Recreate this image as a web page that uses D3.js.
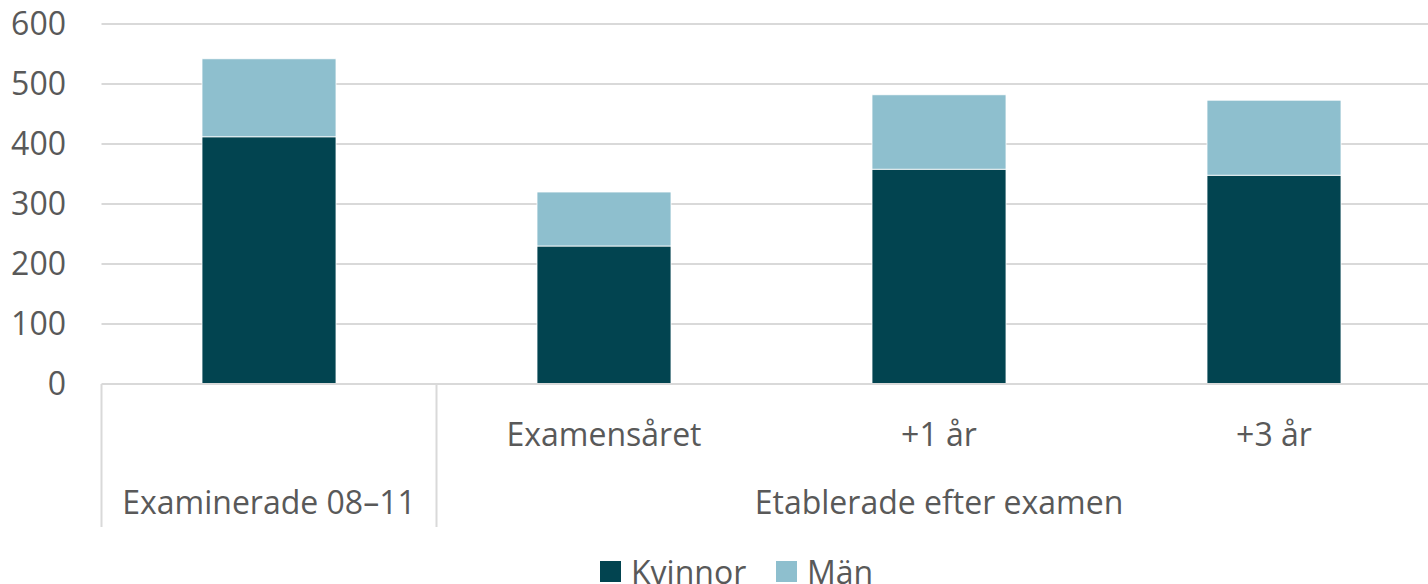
<!DOCTYPE html>
<html>
<head>
<meta charset="utf-8">
<script src="https://cdn.jsdelivr.net/npm/d3@7"></script>
<style>
  body { margin: 0; background: #fff; }
  text { font-family: "Open Sans", "Liberation Sans", sans-serif; fill: #595959; }
</style>
</head>
<body>
<script>
// data
var categories = ["Examinerade 08–11", "Examensåret", "+1 år", "+3 år"];
var subLabels = ["", "Examensåret", "+1 år", "+3 år"];
var groups = [
  {name: "Examinerade 08–11", from: 0, to: 1},
  {name: "Etablerade efter examen", from: 1, to: 4}
];
var kvinnor = [412, 230, 358, 348];
var man = [130, 90, 124, 125];
var seriesNames = ["Kvinnor", "Män"];
var colors = ["#024450", "#8ebfce"];
var yTicks = [0, 100, 200, 300, 400, 500, 600];

var W = 1428, H = 584;
var plotLeft = 101.5, plotRight = 1441.5, plotTop = 24, plotBottom = 384;
var fs = "32px";

var svg = d3.select("body").append("svg")
  .attr("width", W).attr("height", H);

var x = d3.scaleBand().domain(d3.range(categories.length))
  .range([plotLeft, plotRight]).paddingInner(0.6).paddingOuter(0.3);
var y = d3.scaleLinear().domain([0, 600]).range([plotBottom, plotTop]);

// grid
svg.append("g").selectAll("line").data(yTicks.filter(function(d){return d > 0;}))
  .enter().append("line")
  .attr("x1", plotLeft).attr("x2", W)
  .attr("y1", function(d){return y(d);}).attr("y2", function(d){return y(d);})
  .attr("stroke", "#d9d9d9").attr("stroke-width", 2);

// y labels
svg.append("g").selectAll("text").data(yTicks).enter().append("text")
  .attr("x", 66).attr("y", function(d){return y(d);})
  .attr("dy", "0.35em").attr("text-anchor", "end")
  .style("font-size", fs)
  .text(function(d){return d;});

// stacked bars
var rows = categories.map(function(c, i){ return {i: i, Kvinnor: kvinnor[i], "Män": man[i]}; });
var stack = d3.stack().keys(seriesNames)(rows);

svg.append("g").selectAll("g").data(stack).enter().append("g")
  .attr("fill", function(d, i){return colors[i];})
  .selectAll("rect").data(function(d){return d;}).enter().append("rect")
  .attr("x", function(d){return x(d.data.i);})
  .attr("width", x.bandwidth())
  .attr("y", function(d){return y(d[1]);})
  .attr("height", function(d){return y(d[0]) - y(d[1]);})
  .attr("stroke", "#fff").attr("stroke-width", 0.8);

// baseline
svg.append("line").attr("x1", plotLeft).attr("x2", W)
  .attr("y1", plotBottom).attr("y2", plotBottom)
  .attr("stroke", "#d9d9d9").attr("stroke-width", 2);

// multi level category axis
var step = x.step();
function edge(k){ return plotLeft + k * step; }
svg.append("g").selectAll("line").data([0, 1]).enter().append("line")
  .attr("x1", function(d){return edge(d);}).attr("x2", function(d){return edge(d);})
  .attr("y1", plotBottom).attr("y2", 527)
  .attr("stroke", "#d9d9d9").attr("stroke-width", 2);

svg.append("g").selectAll("text").data(subLabels).enter().append("text")
  .attr("x", function(d, i){return x(i) + x.bandwidth() / 2;})
  .attr("y", 435).attr("dy", "0.35em").attr("text-anchor", "middle")
  .style("font-size", fs)
  .text(function(d){return d;});

svg.append("g").selectAll("text").data(groups).enter().append("text")
  .attr("x", function(d){return (edge(d.from) + edge(d.to)) / 2;})
  .attr("y", 503).attr("dy", "0.35em").attr("text-anchor", "middle")
  .style("font-size", fs)
  .text(function(d){return d.name;});

// legend
var legendX = [600, 776];
var lg = svg.append("g").selectAll("g").data(seriesNames).enter().append("g")
  .attr("transform", function(d, i){return "translate(" + legendX[i] + ",561)";});
lg.append("rect").attr("width", 21).attr("height", 21)
  .attr("fill", function(d, i){return colors[i];});
lg.append("text").attr("x", 31).attr("y", 12).attr("dy", "0.35em")
  .style("font-size", fs)
  .text(function(d){return d;});
</script>
</body>
</html>
